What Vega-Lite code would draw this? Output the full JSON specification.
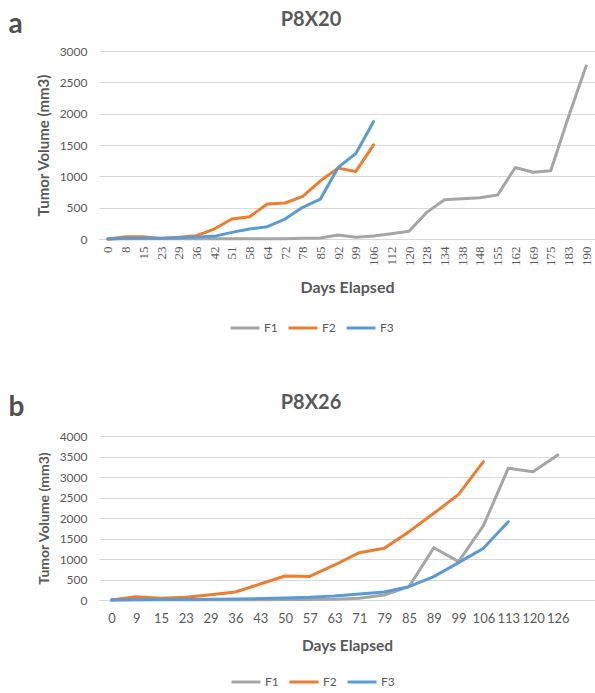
{
  "$schema": "https://vega.github.io/schema/vega-lite/v6.json",
  "padding": {"left": 8, "top": 10, "right": 0, "bottom": 0},
  "config": {
    "view": {"stroke": null},
    "font": "Lato",
    "title": {"color": "#595959", "fontSize": 20, "fontWeight": "bold", "anchor": "middle", "frame": "group"}
  },
  "spacing": 59,
  "resolve": {"scale": {"color": "independent"}},
  "vconcat": [
    {
      "width": 496,
      "height": 188,
      "title": {"text": "P8X20", "dx": -36, "offset": -20},
      "data": {"values": [
        {"day": "0", "vol": 0, "series": "F1"}, {"day": "8", "vol": 5, "series": "F1"}, {"day": "15", "vol": 5, "series": "F1"}, {"day": "23", "vol": 5, "series": "F1"}, {"day": "29", "vol": 5, "series": "F1"}, {"day": "36", "vol": 5, "series": "F1"}, {"day": "42", "vol": 5, "series": "F1"}, {"day": "51", "vol": 5, "series": "F1"}, {"day": "58", "vol": 5, "series": "F1"}, {"day": "64", "vol": 5, "series": "F1"}, {"day": "72", "vol": 5, "series": "F1"}, {"day": "78", "vol": 10, "series": "F1"}, {"day": "85", "vol": 15, "series": "F1"}, {"day": "92", "vol": 64, "series": "F1"}, {"day": "99", "vol": 27, "series": "F1"}, {"day": "106", "vol": 48, "series": "F1"}, {"day": "112", "vol": 85, "series": "F1"}, {"day": "120", "vol": 125, "series": "F1"}, {"day": "128", "vol": 425, "series": "F1"}, {"day": "134", "vol": 627, "series": "F1"}, {"day": "138", "vol": 642, "series": "F1"}, {"day": "148", "vol": 658, "series": "F1"}, {"day": "155", "vol": 701, "series": "F1"}, {"day": "162", "vol": 1142, "series": "F1"}, {"day": "169", "vol": 1065, "series": "F1"}, {"day": "175", "vol": 1090, "series": "F1"}, {"day": "183", "vol": 1946, "series": "F1"}, {"day": "190", "vol": 2761, "series": "F1"},
        {"day": "0", "vol": 0, "series": "F2"}, {"day": "8", "vol": 37, "series": "F2"}, {"day": "15", "vol": 37, "series": "F2"}, {"day": "23", "vol": 10, "series": "F2"}, {"day": "29", "vol": 27, "series": "F2"}, {"day": "36", "vol": 53, "series": "F2"}, {"day": "42", "vol": 159, "series": "F2"}, {"day": "51", "vol": 319, "series": "F2"}, {"day": "58", "vol": 356, "series": "F2"}, {"day": "64", "vol": 558, "series": "F2"}, {"day": "72", "vol": 574, "series": "F2"}, {"day": "78", "vol": 680, "series": "F2"}, {"day": "85", "vol": 929, "series": "F2"}, {"day": "92", "vol": 1131, "series": "F2"}, {"day": "99", "vol": 1078, "series": "F2"}, {"day": "106", "vol": 1503, "series": "F2"},
        {"day": "0", "vol": 0, "series": "F3"}, {"day": "8", "vol": 10, "series": "F3"}, {"day": "15", "vol": 10, "series": "F3"}, {"day": "23", "vol": 10, "series": "F3"}, {"day": "29", "vol": 20, "series": "F3"}, {"day": "36", "vol": 30, "series": "F3"}, {"day": "42", "vol": 42, "series": "F3"}, {"day": "51", "vol": 106, "series": "F3"}, {"day": "58", "vol": 159, "series": "F3"}, {"day": "64", "vol": 196, "series": "F3"}, {"day": "72", "vol": 319, "series": "F3"}, {"day": "78", "vol": 505, "series": "F3"}, {"day": "85", "vol": 637, "series": "F3"}, {"day": "92", "vol": 1142, "series": "F3"}, {"day": "99", "vol": 1365, "series": "F3"}, {"day": "106", "vol": 1875, "series": "F3"}
      ]},
      "layer": [
        {
          "mark": {"type": "line", "strokeWidth": 3, "strokeCap": "round", "strokeJoin": "round"},
          "encoding": {
            "x": {"field": "day", "type": "ordinal",
              "scale": {"domain": ["0","8","15","23","29","36","42","51","58","64","72","78","85","92","99","106","112","120","128","134","138","148","155","162","169","175","183","190"]},
              "axis": {"title": "Days Elapsed", "labelAngle": 270, "labelFont": "Liberation Serif", "labelFontSize": 13, "labelColor": "#595959", "labelPadding": 7, "labelOverlap": false, "ticks": false, "grid": false, "domainColor": "#D9D9D9", "titleFontSize": 16, "titleFontWeight": "bold", "titleColor": "#595959", "titlePadding": 14}},
            "y": {"field": "vol", "type": "quantitative",
              "scale": {"domain": [0, 3000]},
              "axis": {"title": "Tumor Volume (mm3)", "format": "d", "values": [0,500,1000,1500,2000,2500,3000], "domain": false, "ticks": false, "gridColor": "#D9D9D9", "labelFontSize": 12, "labelColor": "#595959", "labelPadding": 12, "titleFontSize": 15, "titleFontWeight": "bold", "titleColor": "#595959", "titlePadding": 8}},
            "color": {"field": "series", "type": "nominal",
              "scale": {"domain": ["F1","F2","F3"], "range": ["#A5A5A5","#ED7D31","#5B9BD5"]},
              "legend": {"orient": "none", "direction": "horizontal", "legendX": 130, "legendY": 261, "title": null, "symbolType": "stroke", "symbolSize": 841, "symbolStrokeWidth": 3, "labelFontSize": 12, "labelColor": "#595959", "labelOffset": 3, "columnPadding": 4, "padding": 0}}
          }
        },
        {
          "mark": {"type": "point", "opacity": 0},
          "encoding": {
            "x": {"field": "day", "type": "ordinal",
              "axis": {"orient": "top", "title": "a", "labels": false, "ticks": false, "domain": false, "grid": false, "titleX": -91, "titleY": -19, "titleAlign": "left", "titleBaseline": "alphabetic", "titleAngle": 0, "titleFontSize": 28, "titleFontWeight": "bold", "titleColor": "#505050"}}
          }
        }
      ],
      "resolve": {"axis": {"x": "independent"}}
    },
    {
      "width": 496,
      "height": 164,
      "title": {"text": "P8X26", "dx": -36, "offset": -20},
      "data": {"values": [
        {"day": "0", "vol": 0, "series": "F1"}, {"day": "9", "vol": 0, "series": "F1"}, {"day": "15", "vol": 5, "series": "F1"}, {"day": "23", "vol": 5, "series": "F1"}, {"day": "29", "vol": 5, "series": "F1"}, {"day": "36", "vol": 5, "series": "F1"}, {"day": "43", "vol": 5, "series": "F1"}, {"day": "50", "vol": 10, "series": "F1"}, {"day": "57", "vol": 15, "series": "F1"}, {"day": "63", "vol": 20, "series": "F1"}, {"day": "71", "vol": 40, "series": "F1"}, {"day": "79", "vol": 122, "series": "F1"}, {"day": "85", "vol": 325, "series": "F1"}, {"day": "89", "vol": 1276, "series": "F1"}, {"day": "99", "vol": 935, "series": "F1"}, {"day": "106", "vol": 1813, "series": "F1"}, {"day": "113", "vol": 3211, "series": "F1"}, {"day": "120", "vol": 3130, "series": "F1"}, {"day": "126", "vol": 3537, "series": "F1"},
        {"day": "0", "vol": 0, "series": "F2"}, {"day": "9", "vol": 81, "series": "F2"}, {"day": "15", "vol": 40, "series": "F2"}, {"day": "23", "vol": 65, "series": "F2"}, {"day": "29", "vol": 130, "series": "F2"}, {"day": "36", "vol": 195, "series": "F2"}, {"day": "43", "vol": 390, "series": "F2"}, {"day": "50", "vol": 585, "series": "F2"}, {"day": "57", "vol": 575, "series": "F2"}, {"day": "63", "vol": 854, "series": "F2"}, {"day": "71", "vol": 1154, "series": "F2"}, {"day": "79", "vol": 1260, "series": "F2"}, {"day": "85", "vol": 1667, "series": "F2"}, {"day": "89", "vol": 2114, "series": "F2"}, {"day": "99", "vol": 2577, "series": "F2"}, {"day": "106", "vol": 3374, "series": "F2"},
        {"day": "0", "vol": 0, "series": "F3"}, {"day": "9", "vol": 10, "series": "F3"}, {"day": "15", "vol": 10, "series": "F3"}, {"day": "23", "vol": 15, "series": "F3"}, {"day": "29", "vol": 20, "series": "F3"}, {"day": "36", "vol": 25, "series": "F3"}, {"day": "43", "vol": 35, "series": "F3"}, {"day": "50", "vol": 50, "series": "F3"}, {"day": "57", "vol": 65, "series": "F3"}, {"day": "63", "vol": 98, "series": "F3"}, {"day": "71", "vol": 146, "series": "F3"}, {"day": "79", "vol": 195, "series": "F3"}, {"day": "85", "vol": 325, "series": "F3"}, {"day": "89", "vol": 569, "series": "F3"}, {"day": "99", "vol": 911, "series": "F3"}, {"day": "106", "vol": 1260, "series": "F3"}, {"day": "113", "vol": 1911, "series": "F3"}
      ]},
      "layer": [
        {
          "mark": {"type": "line", "strokeWidth": 3, "strokeCap": "round", "strokeJoin": "round"},
          "encoding": {
            "x": {"field": "day", "type": "ordinal",
              "scale": {"domain": ["0","9","15","23","29","36","43","50","57","63","71","79","85","89","99","106","113","120","126",""]},
              "axis": {"title": "Days Elapsed", "labelAngle": 0, "labelFontSize": 13, "labelColor": "#595959", "labelPadding": 12, "labelOverlap": false, "ticks": false, "grid": false, "domainColor": "#D9D9D9", "titleFontSize": 15.5, "titleFontWeight": "bold", "titleColor": "#595959", "titlePadding": 13}},
            "y": {"field": "vol", "type": "quantitative",
              "scale": {"domain": [0, 4000]},
              "axis": {"title": "Tumor Volume (mm3)", "format": "d", "values": [0,500,1000,1500,2000,2500,3000,3500,4000], "domain": false, "ticks": false, "gridColor": "#D9D9D9", "labelFontSize": 12, "labelColor": "#595959", "labelPadding": 12, "titleFontSize": 14, "titleFontWeight": "bold", "titleColor": "#595959", "titlePadding": 8}},
            "color": {"field": "series", "type": "nominal",
              "scale": {"domain": ["F1","F2","F3"], "range": ["#A5A5A5","#ED7D31","#5B9BD5"]},
              "legend": {"orient": "none", "direction": "horizontal", "legendX": 131, "legendY": 230, "title": null, "symbolType": "stroke", "symbolSize": 841, "symbolStrokeWidth": 3, "labelFontSize": 12, "labelColor": "#595959", "labelOffset": 3, "columnPadding": 4, "padding": 0}}
          }
        },
        {
          "mark": {"type": "point", "opacity": 0},
          "encoding": {
            "x": {"field": "day", "type": "ordinal",
              "axis": {"orient": "top", "title": "b", "labels": false, "ticks": false, "domain": false, "grid": false, "titleX": -91, "titleY": -21, "titleAlign": "left", "titleBaseline": "alphabetic", "titleAngle": 0, "titleFontSize": 28, "titleFontWeight": "bold", "titleColor": "#505050"}}
          }
        }
      ],
      "resolve": {"axis": {"x": "independent"}}
    }
  ]
}
